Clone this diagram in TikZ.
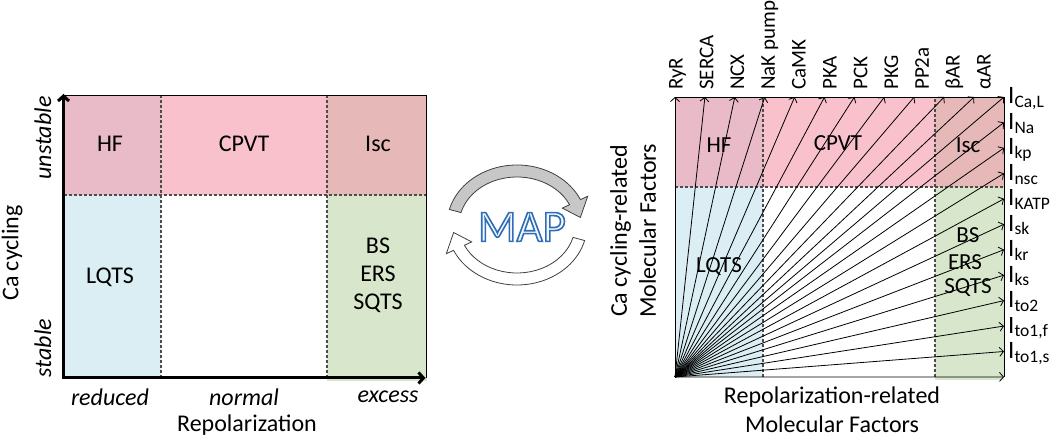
\documentclass[tikz,border=0pt]{standalone}
\usepackage{fontspec}
\setmainfont{Carlito}
\usetikzlibrary{arrows.meta}
\definecolor{colHF}{HTML}{E9BBC8}
\definecolor{colCPVT}{HTML}{F9C1CC}
\definecolor{colIsc}{HTML}{E6B9B8}
\definecolor{colLQTS}{HTML}{DAEEF3}
\definecolor{colBS}{HTML}{D8E7CB}
\definecolor{colMAP}{HTML}{2F6DB5}
\definecolor{colMAPin}{HTML}{F2F7FD}
\newcommand{\contorno}[1]{\special{pdf:code q 2 Tr 1.6 w 0.184 0.427 0.710 RG}#1\special{pdf:code Q}}
\tikzstyle{division}=[dash pattern=on 3pt off 2pt, line width=1.1pt, draw=black!70]
\tikzstyle{eje}=[line width=3pt, {Straight Barb[length=5pt,width=11pt]}-{Straight Barb[length=5pt,width=11pt]}]
\tikzstyle{flecha}=[line width=0.8pt, -{Straight Barb[length=4pt,width=9pt]}]
\tikzstyle{etiq}=[font=\fontsize{24}{28}\selectfont, inner sep=0pt]
\tikzstyle{interior}=[font=\fontsize{23}{26}\selectfont, inner sep=0pt]
\tikzstyle{factor}=[font=\fontsize{21}{24}\selectfont, rotate=90, anchor=base west, inner sep=0pt]
\tikzstyle{corriente}=[font=\fontsize{25}{29}\selectfont, anchor=base west, inner sep=0pt]
\tikzstyle{ciclo}=[draw=black!75, line width=0.8pt]
\tikzstyle{maptxt}=[font=\fontsize{45}{45}\selectfont, inner sep=0pt]

\begin{document}
\begin{tikzpicture}[x=1pt, y=1pt]
    \useasboundingbox (0,0) rectangle (1050,438);

    \begin{scope}[shift={(63.5,60)}]
        % Regiones del plano
        \fill[colHF] (0,183) rectangle (97.5,283);
        \fill[colCPVT] (97.5,183) rectangle (263.5,283);
        \fill[colIsc] (263.5,183) rectangle (363,283);
        \fill[colLQTS] (0,0) rectangle (97.5,183);
        \fill[colBS] (263.5,-3) rectangle (363,183);

        % Divisiones
        \draw[division] (0,183) -- (363,183);
        \draw[division] (97.5,0) -- (97.5,283);
        \draw[division] (263.5,0) -- (263.5,283);
        \draw[line width=0.8pt] (0,283) -- (363,283) -- (363,0);

        % Ejes
        \coordinate (LO) at (0,0);
        \coordinate (LY) at (0,284);
        \coordinate (LX) at (362,0);
        \draw[eje] (LY) -- (LO) -- (LX);

        \node[etiq] (hf) at (46.5,234) {HF};
        \node[etiq] (cpvt) at (180.5,234) {CPVT};
        \node[etiq] (isc) at (314.5,234) {Isc};
        \node[etiq] (lqts) at (46.5,101) {LQTS};
        \node[etiq, align=center] (bs) at (314.5,103) {BS\\ERS\\SQTS};

        \node[etiq, rotate=90] (inest) at (-20.5,240) {\itshape unstable};
        \node[etiq, rotate=90] (est) at (-20.5,30) {\itshape stable};
        \node[etiq, rotate=90] (ca) at (-51.5,125) {Ca cycling};
        \node[etiq] (red) at (46.5,-19) {\itshape reduced};
        \node[etiq] (nor) at (180.5,-19) {\itshape normal};
        \node[etiq] (exc) at (324.5,-19) {\itshape excess};
        \node[etiq] (repol) at (183.5,-47) {Repolarization};
    \end{scope}

    % Ciclo MAP
    \begin{scope}[shift={(517,213)}]
        \draw[ciclo, fill=black!22] (165:70 and 60) arc[start angle=165, end angle=25, x radius=70, y radius=60]
            -- (25:78 and 68) -- (8:64 and 54) -- (25:50 and 40) -- (25:58 and 48)
            arc[start angle=25, end angle=165, x radius=58, y radius=48] -- cycle;
        \draw[ciclo, fill=white] (345:70 and 60) arc[start angle=345, end angle=205, x radius=70, y radius=60]
            -- (205:78 and 68) -- (188:64 and 54) -- (205:50 and 40) -- (205:58 and 48)
            arc[start angle=205, end angle=345, x radius=58, y radius=48] -- cycle;
    \end{scope}
    \node[maptxt, text=colMAPin] (map) at (522,211) {\contorno{MAP}};

    \begin{scope}[shift={(675,61)}]
        % Regiones del plano
        \fill[colHF] (0,190) rectangle (88,280);
        \fill[colCPVT] (88,190) rectangle (260,280);
        \fill[colIsc] (260,190) rectangle (329,280);
        \fill[colLQTS] (0,0) rectangle (88,190);
        \fill[colBS] (260,-3) rectangle (329,190);

        % Divisiones
        \draw[division] (0,190) -- (329,190);
        \draw[division] (88,0) -- (88,280);
        \draw[division] (260,0) -- (260,280);
        \draw[line width=0.8pt] (0,280) -- (329,280) -- (329,0);

        % Abanico de flechas
        \coordinate (O) at (0,0);
        \foreach \k in {0,...,11}
            \coordinate (t\k) at (\k*29.91,280);
        \foreach \k in {1,...,11}
            \coordinate (r\k) at (329,280-\k*25.45);
        \foreach \k in {0,...,11}
            \draw[flecha] (O) -- (t\k);
        \foreach \k in {1,...,11}
            \draw[flecha] (O) -- (r\k);

        % Factores
        \foreach \nom [count=\k from 0] in {RyR,SERCA,NCX,NaK pump,CaMK,PKA,PCK,PKG,PP2a,βAR,αAR}
            \node[factor] (f\k) at (\k*30.8+7.5,287) {\nom};
        \foreach \sub [count=\k] in {{Ca,L},Na,kp,nsc,KATP,sk,kr,ks,to2,{to1,f},{to1,s}}
            \node[corriente] (i\k) at (333,280-\k*25.45+25.45-7) {I\textsubscript{\sub}};

        \node[interior] (hf2) at (44,232) {HF};
        \node[interior] (cpvt2) at (163,234) {CPVT};
        \node[interior] (isc2) at (293,232) {Isc};
        \node[interior] (lqts2) at (44,110) {LQTS};
        \node[interior] (bs2) at (293,142) {BS};
        \node[interior] (ers2) at (290,115) {ERS};
        \node[interior] (sqts2) at (293,89) {SQTS};

        \node[etiq, font=\fontsize{24}{29}\selectfont, rotate=90, align=center] (cam) at (-42,146) {Ca cycling-related\\Molecular Factors};
        \node[etiq, font=\fontsize{24}{29}\selectfont, align=center] (rpm) at (157,-33) {Repolarization-related\\Molecular Factors};
    \end{scope}
\end{tikzpicture}
\end{document}
